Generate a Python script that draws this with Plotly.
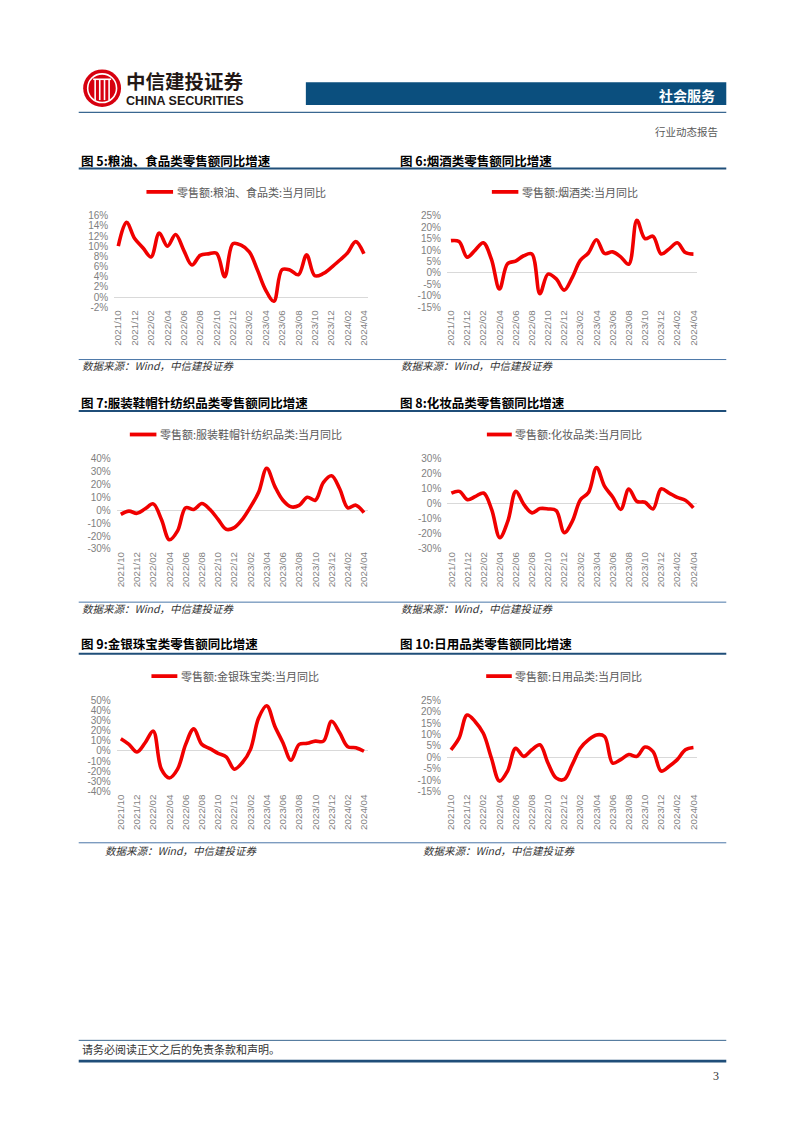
import plotly.graph_objects as go

W, H = 802, 1133

months = ["2021/10", "2021/11", "2021/12", "2022/01", "2022/02", "2022/03", "2022/04", "2022/05",
          "2022/06", "2022/07", "2022/08", "2022/09", "2022/10", "2022/11", "2022/12", "2023/01",
          "2023/02", "2023/03", "2023/04", "2023/05", "2023/06", "2023/07", "2023/08", "2023/09",
          "2023/10", "2023/11", "2023/12", "2024/01", "2024/02", "2024/03", "2024/04"]

food = [10.0, 14.7, 11.5, 9.7, 7.9, 12.6, 10.0, 12.3, 9.2, 6.3, 8.2, 8.5, 8.6, 4.0, 10.5, 10.2,
        8.9, 5.3, 1.4, -0.8, 5.4, 5.3, 4.4, 8.3, 4.2, 4.6, 5.8, 7.2, 8.7, 10.9, 8.5]
tobacco = [14.1, 13.7, 6.9, 10.0, 13.2, 6.0, -7.0, 4.0, 5.2, 7.5, 8.3, -9.0, -0.5, -2.5, -7.5, -2.0,
           5.5, 8.7, 14.5, 8.5, 9.2, 7.0, 3.8, 23.0, 15.0, 16.0, 8.3, 10.5, 13.2, 8.9, 8.2]
clothing = [-3.3, -0.8, -2.5, 1.0, 4.8, -7.1, -22.9, -16.0, 1.8, 0.5, 5.1, 0.5, -7.1, -14.8, -13.5, -7.1,
            2.5, 13.7, 32.3, 18.3, 7.6, 2.5, 3.6, 9.9, 7.6, 21.4, 26.5, 16.5, 1.8, 3.8, -2.0]
cosmetics = [7.0, 8.1, 2.6, 4.8, 7.0, -4.0, -22.5, -11.6, 8.1, -0.7, -6.1, -3.3, -3.5, -4.6, -19.2, -11.6,
             2.6, 7.4, 23.8, 11.4, 4.4, -3.9, 9.7, 1.5, 0.9, -3.5, 9.7, 7.0, 4.1, 2.2, -2.8]
jewelry = [12.0, 6.5, -1.0, 8.1, 19.5, -17.9, -26.6, -17.9, 6.5, 21.8, 6.5, 2.3, -2.3, -5.8, -17.9, -11.4,
           1.6, 32.5, 44.5, 24.4, 8.1, -9.1, 6.5, 7.5, 9.7, 9.7, 29.2, 17.9, 4.2, 3.2, -0.3]
daily = [3.3, 8.4, 18.5, 15.6, 10.5, -0.3, -10.4, -6.0, 4.0, 0.4, 3.3, 5.5, -2.5, -9.0, -9.7, -3.2,
         4.0, 7.6, 9.8, 9.1, -2.5, -1.0, 1.2, 0.4, 4.5, 2.5, -6.0, -3.9, -1.0, 3.3, 4.3]

titles = ["图 5:粮油、食品类零售额同比增速", "图 6:烟酒类零售额同比增速",
          "图 7:服装鞋帽针纺织品类零售额同比增速", "图 8:化妆品类零售额同比增速",
          "图 9:金银珠宝类零售额同比增速", "图 10:日用品类零售额同比增速"]
legend_names = ["零售额:粮油、食品类:当月同比", "零售额:烟酒类:当月同比",
                "零售额:服装鞋帽针纺织品类:当月同比", "零售额:化妆品类:当月同比",
                "零售额:金银珠宝类:当月同比", "零售额:日用品类:当月同比"]
series = [food, tobacco, clothing, cosmetics, jewelry, daily]
y_ticks = [list(range(-2, 17, 2)), list(range(-15, 26, 5)), list(range(-30, 41, 10)),
           list(range(-30, 31, 10)), list(range(-40, 51, 10)), list(range(-15, 26, 5))]
source_text = "数据来源：Wind，中信建投证券"

# layout (pixel geometry)
plot_x = [(112.6, 367.4), (446.6, 698.1), (115.2, 367.4), (447.0, 698.0), (115.2, 367.4), (446.6, 698.1)]
plot_y = [(211.7, 304.3), (211.7, 304.3), (456.7, 548.3), (456.7, 548.3), (701.0, 793.3), (701.0, 793.3)]
legend_pos = [(145, 171.7, 187.7), (491.7, 518.3, 187.7), (128.3, 155, 432.7),
              (486.7, 511.7, 432.7), (150, 176, 676.7), (486, 511.7, 676.7)]
title_pos = [(77, 156), (397, 156), (77, 400), (397, 400), (77, 644), (397, 644)]
source_pos = [(78, 363.5), (398, 363.5), (78, 608.5), (398, 608.5), (101, 852.5), (421, 852.5)]
title_lines = [164, 409, 654]
source_lines = [357, 602, 845]

RED = "#f00000"
BLUE = "#1f4e79"
TICK = "#7f7f7f"


def px(x):
    return x / W


def py(y):
    return 1 - y / H


fig = go.Figure()
shapes = []
annotations = []

for i, vals in enumerate(series):
    n = "" if i == 0 else str(i + 1)
    fig.add_trace(go.Scatter(
        x=months, y=vals, mode="lines",
        line=dict(color=RED, width=3.6, shape="spline", smoothing=1.0),
        xaxis="x" + n, yaxis="y" + n, hoverinfo="skip", showlegend=False))
    x0, x1 = plot_x[i]
    y0, y1 = plot_y[i]
    fig.layout["xaxis" + n] = dict(
        domain=[px(x0), px(x1)], anchor="y" + n, type="category",
        range=[-0.5, len(months) - 0.5], tickmode="array", tickvals=months[::2],
        tickangle=-90, tickfont=dict(family="Liberation Sans, Arial", size=9.8, color=TICK),
        showgrid=False, showline=False, zeroline=False, ticks="")
    yt = y_ticks[i]
    fig.layout["yaxis" + n] = dict(
        domain=[py(y1), py(y0)], anchor="x" + n, range=[yt[0], yt[-1]],
        tickmode="array", tickvals=yt, ticktext=[f"{v}%" for v in yt],
        tickfont=dict(family="Liberation Sans, Arial", size=10, color=TICK),
        showgrid=False, showline=False, zeroline=True, zerolinecolor="#d9d9d9",
        zerolinewidth=1, ticks="", ticklabelstandoff=5)
    # legend
    lx0, lx1, ly = legend_pos[i]
    shapes.append(dict(type="line", xref="paper", yref="paper", x0=px(lx0), x1=px(lx1),
                       y0=py(ly), y1=py(ly), line=dict(color=RED, width=3.8)))
    annotations.append(dict(text=legend_names[i], xref="paper", yref="paper", x=px(lx1 + 1.5),
                            y=py(ly), xanchor="left", yanchor="middle", showarrow=False,
                            font=dict(family="Noto Sans CJK SC", size=11, color="#595959")))
    # title
    tx, ty = title_pos[i]
    annotations.append(dict(text="<b>" + titles[i] + "</b>", xref="paper", yref="paper", x=px(tx),
                            y=py(ty), xanchor="left", yanchor="middle", showarrow=False,
                            font=dict(family="Noto Sans CJK SC", size=12.5, color="#000000")))
    # source
    sx, sy = source_pos[i]
    annotations.append(dict(text="<i>" + source_text + "</i>", xref="paper", yref="paper", x=px(sx),
                            y=py(sy), xanchor="left", yanchor="middle", showarrow=False,
                            font=dict(family="Noto Sans CJK SC", size=10.5, color="#333333")))

for yl in title_lines:
    shapes.append(dict(type="line", xref="paper", yref="paper", x0=px(77), x1=px(727),
                       y0=py(yl), y1=py(yl), line=dict(color=BLUE, width=2)))
for yl in source_lines:
    shapes.append(dict(type="line", xref="paper", yref="paper", x0=px(77), x1=px(727),
                       y0=py(yl), y1=py(yl), line=dict(color="#4a76a8", width=1)))

# header
shapes.append(dict(type="rect", xref="paper", yref="paper", x0=px(305), x1=px(727),
                   y0=py(100), y1=py(77), fillcolor="#0b4f7e", line=dict(width=0)))
shapes.append(dict(type="line", xref="paper", yref="paper", x0=px(77), x1=px(727),
                   y0=py(107.5), y1=py(107.5), line=dict(color="#3a6791", width=1.2)))
# logo
cx, cy, r = 100.5, 83, 19
shapes.append(dict(type="circle", xref="paper", yref="paper", x0=px(cx - r), x1=px(cx + r),
                   y0=py(cy + r), y1=py(cy - r), fillcolor="#d7000f", line=dict(width=0)))
r2 = 14.5
shapes.append(dict(type="circle", xref="paper", yref="paper", x0=px(cx - r2), x1=px(cx + r2),
                   y0=py(cy + r2), y1=py(cy - r2), fillcolor="rgba(0,0,0,0)",
                   line=dict(color="white", width=1.6)))
for dx in (-7, -2.4, 2.4, 7):
    shapes.append(dict(type="line", xref="paper", yref="paper", x0=px(cx + dx), x1=px(cx + dx),
                       y0=py(cy + 12), y1=py(cy - 9), line=dict(color="white", width=1.6)))
shapes.append(dict(type="line", xref="paper", yref="paper", x0=px(cx - 9), x1=px(cx + 9),
                   y0=py(cy - 9), y1=py(cy - 9), line=dict(color="white", width=1.6)))

annotations.append(dict(text="<b>中信建投证券</b>", xref="paper", yref="paper", x=px(122), y=py(75),
                        xanchor="left", yanchor="middle", showarrow=False,
                        font=dict(family="Noto Sans CJK SC", size=19.5, color="#231815")))
annotations.append(dict(text="<b>CHINA SECURITIES</b>", xref="paper", yref="paper", x=px(122.5),
                        y=py(95.5), xanchor="left", yanchor="middle", showarrow=False,
                        font=dict(family="Liberation Sans Narrow, Liberation Sans", size=12.5,
                                  color="#231815")))
annotations.append(dict(text="<b>社会服务</b>", xref="paper", yref="paper", x=px(718), y=py(89.5),
                        xanchor="right", yanchor="middle", showarrow=False,
                        font=dict(family="Noto Sans CJK SC", size=14, color="white")))
annotations.append(dict(text="行业动态报告", xref="paper", yref="paper", x=px(721), y=py(127),
                        xanchor="right", yanchor="middle", showarrow=False,
                        font=dict(family="Noto Sans CJK SC", size=10.5, color="#595959")))

# footer
shapes.append(dict(type="line", xref="paper", yref="paper", x0=px(77), x1=px(727),
                   y0=py(1044.5), y1=py(1044.5), line=dict(color="#3a6791", width=1)))
shapes.append(dict(type="line", xref="paper", yref="paper", x0=px(77), x1=px(727),
                   y0=py(1065.5), y1=py(1065.5), line=dict(color=BLUE, width=2.6)))
annotations.append(dict(text="请务必阅读正文之后的免责条款和声明。", xref="paper", yref="paper",
                        x=px(78), y=py(1053.5), xanchor="left", yanchor="middle", showarrow=False,
                        font=dict(family="Noto Sans CJK SC", size=11, color="#333333")))
annotations.append(dict(text="3", xref="paper", yref="paper", x=px(722), y=py(1080),
                        xanchor="right", yanchor="middle", showarrow=False,
                        font=dict(family="Liberation Serif", size=12, color="#333333")))

fig.update_layout(width=W, height=H, margin=dict(l=0, r=0, t=0, b=0, pad=0),
                  paper_bgcolor="white", plot_bgcolor="white", showlegend=False,
                  shapes=shapes, annotations=annotations)

fig.write_html("out.html", config={"displayModeBar": False},
               post_script="document.body.style.margin='0';"
                           "document.documentElement.style.overflow='hidden';")
